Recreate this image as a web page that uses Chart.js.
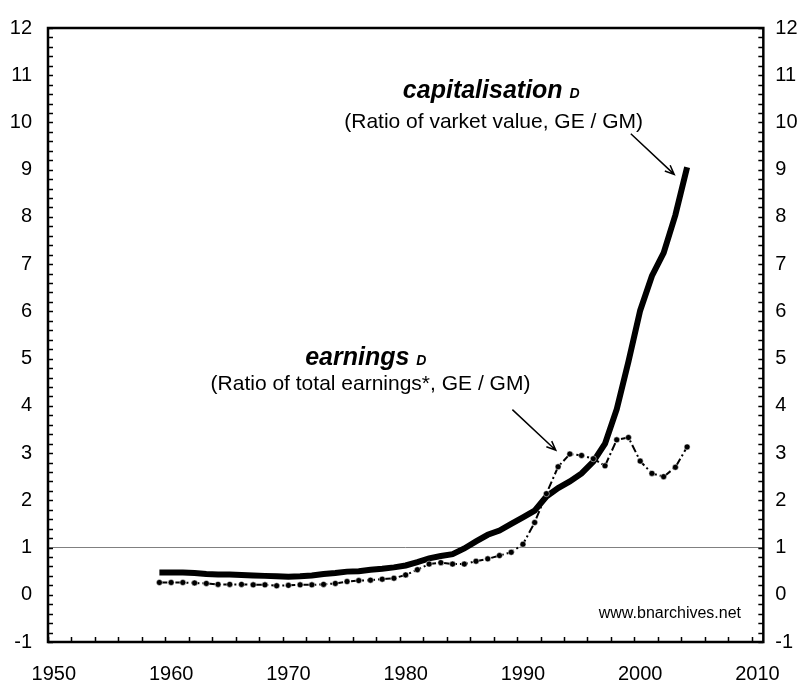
<!DOCTYPE html>
<html>
<head>
<meta charset="utf-8">
<script src="https://cdn.jsdelivr.net/npm/chart.js@4.4.1/dist/chart.umd.min.js"></script>
<style>
    html, body { margin: 0; padding: 0; background: #fff; }
    #wrap { width: 800px; height: 683px; position: relative; }
</style>
</head>
<body>
<div id="wrap"><canvas id="chart"></canvas></div>
<script>
const years = [
    1959, 1960, 1961, 1962, 1963, 1964, 1965, 1966, 1967, 1968,
    1969, 1970, 1971, 1972, 1973, 1974, 1975, 1976, 1977, 1978,
    1979, 1980, 1981, 1982, 1983, 1984, 1985, 1986, 1987, 1988,
    1989, 1990, 1991, 1992, 1993, 1994, 1995, 1996, 1997, 1998,
    1999, 2000, 2001, 2002, 2003, 2004,
];
const capitalisation = [
    0.47, 0.47, 0.47, 0.46, 0.44, 0.43, 0.43, 0.42, 0.41, 0.40,
    0.39, 0.38, 0.39, 0.41, 0.44, 0.46, 0.49, 0.50, 0.53, 0.55,
    0.58, 0.62, 0.69, 0.77, 0.82, 0.86, 0.98, 1.13, 1.27, 1.36,
    1.50, 1.64, 1.78, 2.08, 2.26, 2.40, 2.57, 2.82, 3.20, 3.93,
    4.94, 6.02, 6.75, 7.24, 8.04, 9.05,
];
const earnings = [
    0.26, 0.26, 0.26, 0.25, 0.24, 0.22, 0.22, 0.22, 0.21, 0.21,
    0.19, 0.20, 0.21, 0.21, 0.22, 0.24, 0.28, 0.30, 0.31, 0.33,
    0.35, 0.42, 0.53, 0.65, 0.68, 0.65, 0.65, 0.71, 0.76, 0.83,
    0.90, 1.07, 1.53, 2.14, 2.71, 2.98, 2.95, 2.88, 2.73, 3.28,
    3.33, 2.83, 2.57, 2.50, 2.70, 3.13,
];
const xTickLabels = [1950, 1960, 1970, 1980, 1990, 2000, 2010];
const yTickLabels = [-1, 0, 1, 2, 3, 4, 5, 6, 7, 8, 9, 10, 11, 12];

const FONT = "Arial, 'Liberation Sans', sans-serif";
Chart.defaults.font.family = FONT;
Chart.defaults.color = "#000";

// frame + inward tick marks, drawn through the scales
const frameAndTicks = {
    id: "frameAndTicks",
    afterDatasetsDraw(chart) {
        const { ctx, chartArea: a, scales } = chart;
        const x = scales.x;
        const y = scales.y;
        ctx.save();
        ctx.strokeStyle = "#000";
        ctx.lineWidth = 1.5;
        ctx.beginPath();
        for (let v = 1949.5; v < 2010.5; v += 2) {
            const px = Math.round(x.getPixelForValue(v)) + 0.5;
            ctx.moveTo(px, a.bottom);
            ctx.lineTo(px, a.bottom - 5);
        }
        for (let i = 0; i <= 65; i++) {
            const v = -1 + i * 0.2;
            const py = Math.round(y.getPixelForValue(v)) + 0.5;
            ctx.moveTo(a.left, py);
            ctx.lineTo(a.left + 5, py);
            ctx.moveTo(a.right, py);
            ctx.lineTo(a.right - 5, py);
        }
        ctx.stroke();
        ctx.lineWidth = 2.5;
        ctx.strokeRect(a.left, a.top, a.right - a.left, a.bottom - a.top);
        ctx.restore();
    },
    afterDraw(chart) {
        const { ctx, scales } = chart;
        const px = (v) => scales.x.getPixelForValue(v);
        const py = (v) => scales.y.getPixelForValue(v);
        ctx.save();
        ctx.fillStyle = "#000";
        ctx.textBaseline = "alphabetic";

        titleWithD("capitalisation", px(1987.3), py(10.51));
        ctx.font = "21px " + FONT;
        ctx.textAlign = "center";
        ctx.fillText("(Ratio of varket value, GE / GM)", px(1987.5), py(9.88));

        titleWithD("earnings", px(1976.6), py(4.87));
        ctx.font = "21px " + FONT;
        ctx.textAlign = "center";
        ctx.fillText("(Ratio of total earnings*, GE / GM)", px(1977.0), py(4.34));

        ctx.font = "16px " + FONT;
        ctx.textAlign = "right";
        ctx.fillText("www.bnarchives.net", px(2008.6), py(-0.5));

        arrow(px(1999.2), py(9.76), px(2002.9), py(8.9));
        arrow(px(1989.1), py(3.92), px(1992.8), py(3.06));
        ctx.restore();

        function titleWithD(word, cx, base) {
            ctx.textAlign = "left";
            ctx.font = "italic bold 25px " + FONT;
            const w1 = ctx.measureText(word + " ").width;
            ctx.font = "italic bold 14px " + FONT;
            const w2 = ctx.measureText("D").width;
            const x0 = cx - (w1 + w2) / 2;
            ctx.font = "italic bold 25px " + FONT;
            ctx.fillText(word, x0, base);
            ctx.font = "italic bold 14px " + FONT;
            ctx.fillText("D", x0 + w1, base);
        }

        function arrow(x1, y1, x2, y2) {
            const ang = Math.atan2(y2 - y1, x2 - x1);
            const h = 10;
            ctx.strokeStyle = "#000";
            ctx.lineWidth = 1.5;
            ctx.beginPath();
            ctx.moveTo(x1, y1);
            ctx.lineTo(x2, y2);
            ctx.moveTo(x2 - h * Math.cos(ang - 0.4), y2 - h * Math.sin(ang - 0.4));
            ctx.lineTo(x2, y2);
            ctx.lineTo(x2 - h * Math.cos(ang + 0.4), y2 - h * Math.sin(ang + 0.4));
            ctx.stroke();
        }
    },
};

const tickFont = { size: 20 };

new Chart(document.getElementById("chart"), {
    type: "line",
    data: {
        datasets: [
            {
                label: "earnings",
                data: years.map((yr, i) => ({ x: yr, y: earnings[i] })),
                borderColor: "#000",
                borderWidth: 2,
                borderDash: [8, 3, 2, 3],
                pointRadius: 3,
                pointBackgroundColor: "#000",
                pointBorderColor: "#fff",
                pointBorderWidth: 0.5,
                tension: 0,
                order: 1,
            },
            {
                label: "capitalisation",
                data: years.map((yr, i) => ({ x: yr, y: capitalisation[i] })),
                borderColor: "#000",
                borderWidth: 6,
                pointRadius: 0,
                tension: 0,
                order: 2,
            },
        ],
    },
    options: {
        responsive: true,
        maintainAspectRatio: false,
        animation: false,
        layout: { padding: { top: 21, left: 0, right: 0, bottom: 0 } },
        plugins: {
            legend: { display: false },
            tooltip: { enabled: false },
        },
        events: [],
        scales: {
            x: {
                type: "linear",
                min: 1949.5,
                max: 2010.5,
                afterBuildTicks: (scale) => {
                    scale.ticks = xTickLabels.map((v) => ({ value: v }));
                },
                ticks: {
                    callback: (v) => String(v),
                    padding: 20,
                    font: tickFont,
                    maxRotation: 0,
                    autoSkip: false,
                },
                grid: { display: false, drawTicks: false },
                border: { display: false },
                afterFit: (scale) => {
                    scale.height = 41;
                },
            },
            y: {
                min: -1,
                max: 12,
                afterBuildTicks: (scale) => {
                    scale.ticks = yTickLabels.map((v) => ({ value: v }));
                },
                ticks: { padding: 16, font: tickFont },
                grid: {
                    drawTicks: false,
                    lineWidth: 1,
                    color: (ctx) =>
                        ctx.tick && ctx.tick.value === 1
                            ? "#808080"
                            : "rgba(0,0,0,0)",
                },
                border: { display: false },
                afterFit: (scale) => {
                    scale.width = 48;
                },
            },
            y2: {
                position: "right",
                min: -1,
                max: 12,
                afterBuildTicks: (scale) => {
                    scale.ticks = yTickLabels.map((v) => ({ value: v }));
                },
                ticks: { padding: 12, font: tickFont },
                grid: { display: false, drawTicks: false },
                border: { display: false },
                afterFit: (scale) => {
                    scale.width = 35;
                },
            },
        },
    },
    plugins: [frameAndTicks],
});
</script>
</body>
</html>
